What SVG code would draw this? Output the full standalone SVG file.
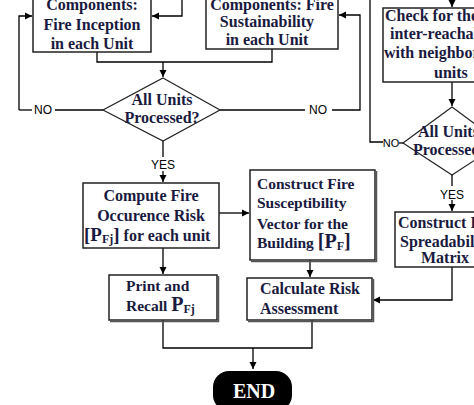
<svg xmlns="http://www.w3.org/2000/svg" width="474" height="405" viewBox="0 0 474 405">
<defs>
<marker id="ah" markerWidth="8" markerHeight="8" refX="7" refY="4" orient="auto" markerUnits="userSpaceOnUse">
<path d="M0,0.5 L7,4 L0,7.5 Z" fill="#000"/>
</marker>
<style>
.box{fill:#fff;stroke:#222;stroke-width:1.5}
.sh{fill:none;stroke:#555;stroke-width:1.5}
.dia{fill:#fff;stroke:#222;stroke-width:1.2}
.t{font-family:"Liberation Serif","Times New Roman",serif;font-weight:bold;font-size:16px;fill:#1a1a40}
.m{text-anchor:middle}
.b{font-family:"Liberation Serif","Times New Roman",serif;font-weight:bold;font-size:20px;fill:#1a1a40}
.lbl{font-family:"Liberation Sans",Arial,sans-serif;font-size:12px;fill:#000;text-anchor:middle}
.c{fill:none;stroke:#000;stroke-width:1.3}
</style>
</defs>
<rect width="474" height="405" fill="#fff"/>

<g id="connectors">
<polyline class="c" points="19,110 19,16 32,16" marker-end="url(#ah)"/>
<line class="c" x1="19" y1="110" x2="32" y2="110"/>
<line class="c" x1="55" y1="110" x2="103" y2="110"/>
<polyline class="c" points="182,0 182,16 152,16" marker-end="url(#ah)"/>
<polyline class="c" points="97,52 97,62 272,62 272,49"/>
<line class="c" x1="163" y1="62" x2="163" y2="77" marker-end="url(#ah)"/>
<line class="c" x1="220" y1="110" x2="305" y2="110"/>
<polyline class="c" points="332,110 360,110 360,15 339,15" marker-end="url(#ah)"/>
<line class="c" x1="163" y1="141" x2="163" y2="157"/>
<line class="c" x1="163" y1="171" x2="163" y2="182" marker-end="url(#ah)"/>
<line class="c" x1="163" y1="248" x2="163" y2="274" marker-end="url(#ah)"/>
<line class="c" x1="219" y1="213" x2="249" y2="213" marker-end="url(#ah)"/>
<line class="c" x1="310" y1="260" x2="310" y2="277" marker-end="url(#ah)"/>
<polyline class="c" points="163,320 163,348 312,348 312,320"/>
<line class="c" x1="253" y1="348" x2="253" y2="369" marker-end="url(#ah)"/>
<line class="c" x1="452" y1="0" x2="452" y2="7" marker-end="url(#ah)"/>
<line class="c" x1="452" y1="82" x2="452" y2="106" marker-end="url(#ah)"/>
<polyline class="c" points="370,0 370,142 383,142"/>
<line class="c" x1="399" y1="143" x2="403" y2="143"/>
<line class="c" x1="452" y1="175" x2="452" y2="186"/>
<line class="c" x1="452" y1="200" x2="452" y2="211" marker-end="url(#ah)"/>
<polyline class="c" points="452,267 452,300 373,300" marker-end="url(#ah)"/>
<text class="lbl" x="43" y="114">NO</text>
<text class="lbl" x="318" y="114">NO</text>
<text class="lbl" x="163" y="169">YES</text>
<text class="lbl" x="391" y="147" style="font-size:11px">NO</text>
<text class="lbl" x="452" y="199">YES</text>
</g>

<g id="n1">
<rect class="box" x="33" y="-20" width="118" height="72"/>
<text class="t m" x="92" y="10">Components:</text>
<text class="t m" x="92" y="30">Fire Inception</text>
<text class="t m" x="92" y="49">in each Unit</text>
</g>

<g id="n2">
<rect class="box" x="206" y="-20" width="132" height="69"/>
<text class="t m" x="272" y="10">Components: Fire</text>
<text class="t m" x="267" y="27">Sustainability</text>
<text class="t m" x="267" y="45">in each Unit</text>
</g>

<g id="d1">
<polygon class="dia" points="163,78 220,110 163,141 103,110"/>
<text class="t m" x="162" y="105">All Units</text>
<text class="t m" x="162" y="123">Processed?</text>
</g>

<g id="n3">
<rect class="box" x="83" y="183" width="136" height="65"/>
<text class="t m" x="151" y="201">Compute Fire</text>
<text class="t m" x="151" y="221">Occurence Risk</text>
<text class="t" x="84" y="241"><tspan style="font-size:19px">[P</tspan><tspan style="font-size:12px" dy="2">Fj</tspan><tspan style="font-size:19px" dy="-2">]</tspan> for each unit</text>
</g>

<g id="n4">
<rect class="box" x="250" y="170" width="125" height="90"/>
<polyline class="sh" points="376.5,171 376.5,261.5 251,261.5"/>
<text class="t" x="257" y="189" style="font-size:15.5px">Construct Fire</text>
<text class="t" x="257" y="208" style="font-size:15.5px">Susceptibility</text>
<text class="t" x="257" y="229" style="font-size:15.5px">Vector for the</text>
<text class="t" x="257" y="248" style="font-size:15.5px">Building <tspan style="font-size:20px">[P</tspan><tspan style="font-size:12px" dy="2">F</tspan><tspan style="font-size:20px" dy="-2">]</tspan></text>
</g>

<g id="n5">
<rect class="box" x="247" y="278" width="125" height="42"/>
<polyline class="sh" points="373.5,279 373.5,321.5 248,321.5"/>
<text class="t" x="260" y="294">Calculate Risk</text>
<text class="t" x="260" y="314">Assessment</text>
</g>

<g id="n6">
<rect class="box" x="109" y="275" width="108" height="45"/>
<polyline class="sh" points="218.5,276 218.5,321.5 110,321.5"/>
<text class="t" x="126" y="291" style="font-size:15.5px">Print and</text>
<text class="t" x="126" y="311" style="font-size:15.5px">Recall <tspan style="font-size:20px">P</tspan><tspan style="font-size:12px" dy="2">Fj</tspan></text>
</g>

<g id="n7">
<rect class="box" x="383" y="8" width="140" height="74"/>
<text class="t" x="385" y="21">Check for the</text>
<text class="t" x="390" y="39">inter-reachability</text>
<text class="t" x="384" y="58">with neighboring</text>
<text class="t" x="434" y="78">units</text>
</g>

<g id="d2">
<polygon class="dia" points="452,107 501,143 452,175 403,143"/>
<text class="t" x="418" y="137">All Units</text>
<text class="t" x="413" y="155">Processed?</text>
</g>

<g id="n8">
<rect class="box" x="395" y="212" width="120" height="55"/>
<text class="t" x="398" y="228">Construct Fire</text>
<text class="t" x="400" y="247">Spreadability</text>
<text class="t" x="421" y="263">Matrix</text>
</g>

<g id="end">
<rect x="213" y="371" width="79" height="40" rx="16" ry="16" fill="#000"/>
<text x="254" y="398" text-anchor="middle" style="font-family:'Liberation Serif','Times New Roman',serif;font-weight:bold;font-size:20px;fill:#fff">END</text>
</g>
</svg>
